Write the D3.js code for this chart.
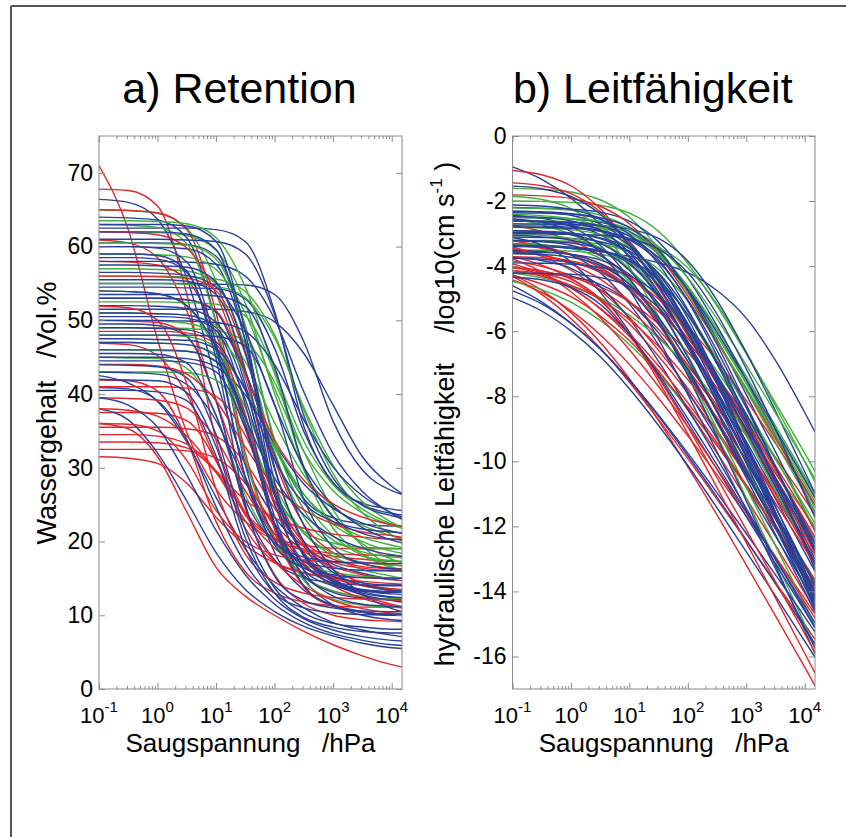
<!DOCTYPE html>
<html><head><meta charset="utf-8">
<script src="https://cdn.jsdelivr.net/npm/d3@7"></script>
<style>
body{margin:0;background:#fff}
text{font-family:Arial,"Liberation Sans",Helvetica,sans-serif;fill:#000}
</style></head>
<body><svg id="c" width="846" height="837"></svg>
<script>
// suction head sample positions (hPa)
const suction = [0.1, 0.316, 1, 3.16, 10, 31.6, 100, 316, 1000, 3162, 10000, 15000];
const xTicks = [0.1, 1, 10, 100, 1000, 10000];
const xTickExp = ["-1", "0", "1", "2", "3", "4"];
const retTicks = [0, 10, 20, 30, 40, 50, 60, 70];
const condTicks = [0, -2, -4, -6, -8, -10, -12, -14, -16];

// a) Retention, water content /Vol.%
const retentionRed = [
[71.0,62.3,47.4,34.8,27.1,22.7,20.2,18.8,18.0,17.6,17.3,17.3],
[67.8,67.6,65.5,53.5,33.7,23.9,20.5,19.5,19.1,19.0,19.0,19.0],
[65.0,64.9,64.6,62.3,51.0,32.0,20.4,15.3,13.3,12.5,12.2,12.2],
[60.9,60.5,58.5,51.3,39.1,28.7,22.4,18.7,16.6,15.5,14.8,14.7],
[58.0,57.9,57.5,55.5,48.1,35.6,25.0,18.5,14.8,12.7,11.5,11.2],
[53.0,53.0,53.0,52.8,51.3,42.2,27.2,19.7,17.2,16.4,16.1,16.1],
[50.0,49.9,49.7,47.9,39.1,24.5,15.5,11.6,10.0,9.4,9.2,9.1],
[46.9,46.7,45.2,40.0,31.1,23.6,19.1,16.4,14.9,14.1,13.6,13.5],
[41.9,41.8,40.4,33.8,22.7,15.9,13.0,11.8,11.3,11.1,11.1,11.0],
[37.5,37.5,37.4,36.4,30.9,21.8,17.2,15.7,15.2,15.1,15.0,15.0],
[36.0,35.3,31.5,24.0,16.5,12.6,10.0,7.8,6.0,4.5,3.3,3.0],
[35.5,35.5,35.5,35.3,34.3,30.7,24.5,19.4,16.2,14.4,13.3,13.1],
[33.5,33.5,33.4,32.7,29.4,23.9,20.4,19.0,18.4,18.2,18.1,18.0],
[32.5,32.5,32.5,32.3,31.3,27.9,22.0,17.0,14.0,12.3,11.3,11.0],
[31.5,31.3,30.6,27.9,23.3,19.5,17.1,15.8,15.0,14.6,14.3,14.2],
[44.0,44.0,43.8,42.7,39.1,32.8,27.5,24.3,22.4,21.3,20.8,20.6],
[56.0,56.0,55.9,55.7,54.0,45.4,31.1,22.3,18.5,17.0,16.4,16.3],
[48.5,48.5,48.5,48.3,46.7,37.2,21.6,13.8,11.2,10.4,10.1,10.1],
[38.0,37.8,37.0,34.3,29.6,25.6,23.2,21.8,21.0,20.6,20.3,20.3],
[41.0,41.0,41.0,40.8,39.7,34.4,25.5,20.0,17.6,16.6,16.3,16.2],
[36.0,35.9,35.0,31.0,24.2,20.0,18.2,17.5,17.2,17.1,17.0,17.0],
[39.5,39.4,39.2,38.1,33.9,26.9,21.0,17.3,15.2,14.0,13.4,13.2],
[34.5,34.5,34.3,33.2,29.4,22.8,17.3,14.0,12.0,10.9,10.3,10.2],
[62.0,61.9,61.6,59.8,53.6,42.9,33.8,28.3,25.1,23.3,22.3,22.1],
[51.9,51.7,50.0,41.4,27.1,18.3,14.5,13.0,12.4,12.2,12.1,12.0]
];
const retentionGreen = [
[65.0,64.9,64.5,62.5,55.3,43.1,32.7,26.4,22.7,20.6,19.5,19.2],
[62.0,62.0,61.9,61.5,59.5,52.3,40.1,29.7,23.4,19.7,17.6,17.1],
[57.0,57.0,56.9,56.7,55.0,46.4,32.1,23.3,19.5,18.0,17.4,17.3],
[54.0,53.9,53.6,51.9,45.8,35.3,26.5,21.1,18.0,16.2,15.3,15.0],
[51.0,51.0,50.9,50.7,49.3,44.4,36.1,29.0,24.7,22.2,20.8,20.4],
[49.0,49.0,49.0,48.9,48.6,47.1,41.6,32.2,24.3,19.4,16.6,15.9],
[47.0,47.0,46.9,46.7,45.4,40.8,33.0,26.4,22.3,20.0,18.7,18.4],
[45.0,44.9,44.8,43.5,37.1,26.3,19.7,16.9,15.8,15.3,15.1,15.1],
[43.0,43.0,43.0,42.9,41.9,36.0,26.2,21.4,19.8,19.2,19.1,19.0],
[59.0,59.0,58.9,58.6,56.9,51.0,40.8,32.2,26.9,23.9,22.2,21.8],
[52.5,52.5,52.5,52.4,52.2,50.6,42.8,29.8,21.8,18.3,16.9,16.7],
[63.0,62.9,62.6,60.4,49.5,31.3,20.1,15.2,13.3,12.5,12.2,12.2],
[56.0,56.0,56.0,55.9,55.6,53.9,48.0,37.8,29.2,23.9,20.9,20.1],
[48.0,48.0,48.0,47.8,46.3,37.2,22.2,14.7,12.2,11.4,11.1,11.1],
[60.5,60.5,60.4,60.2,58.3,49.1,33.8,24.3,20.2,18.6,17.9,17.8],
[55.0,55.0,55.0,54.9,54.6,53.1,47.6,38.2,30.3,25.4,22.6,21.9],
[50.0,50.0,49.9,49.6,48.1,42.7,33.4,25.6,20.8,18.1,16.5,16.1],
[46.0,46.0,45.9,45.8,44.5,38.2,27.7,21.2,18.4,17.2,16.8,16.7],
[63.5,63.5,63.4,63.1,61.2,54.5,43.2,33.6,27.7,24.4,22.4,22.0]
];
const retentionBlue = [
[66.4,66.0,63.7,55.7,42.0,30.4,23.3,19.3,16.9,15.7,14.9,14.7],
[64.0,63.9,63.6,61.2,49.7,30.4,18.5,13.4,11.4,10.5,10.2,10.2],
[62.5,62.5,62.5,62.5,62.3,60.7,51.2,35.6,27.8,25.2,24.4,24.2],
[60.5,60.5,60.5,60.3,58.7,49.2,33.6,25.8,23.2,22.4,22.1,22.1],
[60.0,60.0,59.9,59.7,57.6,47.3,30.1,19.6,15.0,13.2,12.5,12.4],
[55.0,55.0,55.0,55.0,54.9,54.8,53.5,47.1,36.3,29.7,26.9,26.4],
[51.5,51.5,51.5,51.5,51.5,51.2,49.8,45.5,38.5,31.5,27.5,26.5],
[54.5,54.5,54.5,54.4,54.3,52.9,46.2,34.9,28.0,25.0,23.8,23.6],
[58.0,58.0,58.0,57.9,57.6,56.0,50.2,40.3,31.9,26.8,23.8,23.0],
[53.0,53.0,53.0,52.8,51.1,41.3,25.1,17.0,14.3,13.4,13.1,13.1],
[51.0,51.0,50.9,50.7,49.0,40.7,26.7,18.2,14.5,13.0,12.4,12.3],
[49.5,49.5,49.3,47.8,39.1,24.7,17.5,15.1,14.4,14.1,14.0,14.0],
[47.0,47.0,46.9,46.7,45.1,36.9,23.4,15.0,11.4,10.0,9.4,9.3],
[45.0,45.0,45.0,44.8,43.7,39.9,33.3,27.8,24.5,22.5,21.4,21.1],
[43.0,42.9,42.7,41.3,36.4,28.1,21.0,16.7,14.2,12.8,12.0,11.8],
[40.9,40.7,39.1,33.8,24.7,17.0,12.2,9.5,8.0,7.1,6.6,6.5],
[38.0,36.5,32.0,25.5,18.5,13.5,10.5,8.5,7.2,6.2,5.6,5.5],
[42.5,41.5,39.0,33.5,26.0,19.0,14.0,11.0,9.0,8.0,7.3,7.1],
[60.0,60.0,59.8,57.9,46.8,28.6,19.5,16.4,15.5,15.1,15.0,15.0],
[56.5,56.5,56.4,56.1,54.5,48.6,38.5,30.1,24.9,21.9,20.2,19.8],
[52.0,52.0,51.9,51.6,49.7,43.0,31.7,22.2,16.2,12.9,10.9,10.5],
[48.0,48.0,48.0,48.0,47.8,46.5,38.6,25.7,19.2,17.0,16.3,16.2],
[46.0,46.0,46.0,45.8,44.4,36.0,22.3,15.4,13.1,12.3,12.1,12.1],
[44.0,43.9,43.7,42.2,34.5,21.6,13.7,10.3,8.9,8.4,8.1,8.1],
[62.0,62.0,62.0,61.7,59.6,47.1,26.4,16.1,12.6,11.5,11.2,11.1],
[50.0,50.0,50.0,49.9,49.7,48.5,44.0,36.5,30.1,26.2,23.9,23.3],
[57.5,57.5,57.4,57.2,55.2,45.7,29.8,20.0,15.8,14.1,13.4,13.3],
[40.5,40.5,40.3,39.1,31.6,19.2,13.0,11.0,10.3,10.1,10.0,10.0],
[54.0,53.9,53.6,52.0,46.4,36.7,28.6,23.6,20.7,19.1,18.2,18.0],
[39.5,38.5,35.5,29.0,21.5,15.5,11.5,9.0,7.5,6.6,6.0,5.9],
[63.0,63.0,63.0,62.8,60.7,48.4,28.1,18.0,14.6,13.5,13.2,13.1],
[59.0,59.0,58.8,56.7,44.8,25.1,15.3,12.0,11.0,10.6,10.5,10.5],
[55.5,55.5,55.5,55.3,53.5,43.3,26.5,18.1,15.3,14.4,14.1,14.1],
[53.5,53.5,53.5,53.5,53.3,51.9,43.7,30.1,23.3,21.1,20.3,20.2],
[49.0,49.0,48.9,48.7,47.1,39.3,26.3,18.3,14.8,13.4,12.9,12.8],
[47.5,47.5,47.4,47.3,46.1,40.5,31.0,25.2,22.7,21.7,21.3,21.2],
[44.5,44.5,44.5,44.3,43.0,35.3,22.5,16.1,14.0,13.3,13.1,13.1],
[42.0,41.9,41.8,40.2,32.9,20.5,13.0,9.7,8.4,7.8,7.6,7.6],
[58.5,58.5,58.3,56.5,46.0,28.8,20.2,17.3,16.4,16.1,16.0,16.0],
[50.5,50.5,50.5,50.3,48.6,38.6,22.2,14.0,11.3,10.4,10.1,10.1],
[61.0,61.0,61.0,60.9,60.7,59.0,50.8,37.1,28.6,24.9,23.5,23.2],
[45.5,45.5,45.4,44.2,37.1,25.6,19.8,17.9,17.3,17.1,17.0,17.0]
];

// b) Conductivity, log10(K / cm s^-1)
const conductivityRed = [
[-3.70,-3.97,-4.38,-4.99,-5.78,-6.77,-7.90,-9.13,-10.43,-11.78,-13.14,-13.64],
[-3.93,-4.22,-4.66,-5.31,-6.16,-7.22,-8.43,-9.75,-11.14,-12.58,-14.05,-14.58],
[-3.22,-3.38,-3.65,-4.04,-4.63,-5.39,-6.35,-7.43,-8.62,-9.88,-11.17,-11.65],
[-4.42,-4.81,-5.37,-6.11,-7.02,-8.07,-9.22,-10.42,-11.67,-12.94,-14.22,-14.69],
[-4.26,-4.74,-5.43,-6.34,-7.46,-8.75,-10.17,-11.65,-13.19,-14.75,-16.33,-16.90],
[-3.41,-3.69,-4.12,-4.75,-5.57,-6.59,-7.76,-9.04,-10.39,-11.78,-13.19,-13.71],
[-1.06,-1.19,-1.53,-2.24,-3.34,-4.68,-6.12,-7.61,-9.10,-10.60,-12.10,-12.64],
[-1.44,-1.53,-1.77,-2.33,-3.32,-4.63,-6.09,-7.61,-9.15,-10.70,-12.25,-12.81],
[-3.84,-4.01,-4.29,-4.72,-5.35,-6.17,-7.19,-8.36,-9.64,-10.99,-12.38,-12.89],
[-3.34,-3.45,-3.63,-3.92,-4.36,-5.01,-5.86,-6.92,-8.13,-9.45,-10.84,-11.36],
[-4.28,-4.55,-4.94,-5.53,-6.29,-7.25,-8.33,-9.52,-10.78,-12.07,-13.39,-13.87],
[-4.31,-4.87,-5.61,-6.52,-7.57,-8.72,-9.92,-11.17,-12.44,-13.72,-15.01,-15.48],
[-3.71,-3.74,-3.84,-4.09,-4.69,-5.74,-7.14,-8.70,-10.31,-11.95,-13.60,-14.19],
[-2.75,-2.93,-3.22,-3.66,-4.31,-5.16,-6.22,-7.43,-8.75,-10.14,-11.58,-12.11],
[-1.81,-1.84,-1.92,-2.16,-2.70,-3.66,-4.92,-6.34,-7.81,-9.30,-10.80,-11.34],
[-4.05,-4.16,-4.34,-4.64,-5.10,-5.77,-6.65,-7.74,-8.99,-10.36,-11.80,-12.33],
[-3.77,-4.18,-4.79,-5.58,-6.57,-7.70,-8.93,-10.23,-11.58,-12.94,-14.33,-14.82],
[-4.05,-4.14,-4.40,-5.02,-6.10,-7.54,-9.15,-10.81,-12.50,-14.20,-15.90,-16.51],
[-4.00,-4.27,-4.68,-5.29,-6.08,-7.07,-8.20,-9.43,-10.73,-12.08,-13.44,-13.94],
[-3.46,-3.64,-3.94,-4.40,-5.07,-5.95,-7.04,-8.29,-9.66,-11.10,-12.58,-13.13],
[-4.14,-4.31,-4.59,-5.02,-5.65,-6.47,-7.49,-8.66,-9.94,-11.29,-12.68,-13.19],
[-4.14,-4.23,-4.48,-5.06,-6.08,-7.43,-8.94,-10.51,-12.10,-13.70,-15.30,-15.88],
[-3.56,-3.67,-3.87,-4.19,-4.68,-5.39,-6.33,-7.49,-8.82,-10.27,-11.81,-12.37]
];
const conductivityGreen = [
[-1.61,-1.64,-1.72,-1.96,-2.50,-3.46,-4.72,-6.14,-7.61,-9.10,-10.60,-11.14],
[-2.00,-2.01,-2.04,-2.13,-2.37,-2.93,-3.92,-5.23,-6.69,-8.21,-9.75,-10.31],
[-2.70,-2.71,-2.74,-2.83,-3.07,-3.63,-4.62,-5.93,-7.39,-8.91,-10.45,-11.01],
[-3.20,-3.21,-3.24,-3.32,-3.56,-4.10,-5.06,-6.32,-7.74,-9.21,-10.70,-11.24],
[-2.55,-2.73,-3.02,-3.46,-4.11,-4.96,-6.02,-7.23,-8.55,-9.94,-11.38,-11.91],
[-2.91,-2.94,-3.03,-3.27,-3.83,-4.82,-6.13,-7.59,-9.11,-10.65,-12.20,-12.76],
[-3.50,-3.51,-3.54,-3.63,-3.88,-4.46,-5.48,-6.83,-8.34,-9.91,-11.50,-12.08],
[-4.47,-4.72,-5.11,-5.67,-6.41,-7.32,-8.37,-9.52,-10.72,-11.97,-13.24,-13.70],
[-2.41,-2.45,-2.54,-2.80,-3.42,-4.50,-5.94,-7.55,-9.21,-10.90,-12.60,-13.21],
[-3.00,-3.00,-3.02,-3.05,-3.14,-3.42,-4.05,-5.17,-6.64,-8.30,-10.01,-10.64],
[-1.85,-1.95,-2.23,-2.88,-4.03,-5.55,-7.25,-9.01,-10.80,-12.60,-14.40,-15.05],
[-3.32,-3.35,-3.46,-3.76,-4.47,-5.71,-7.36,-9.20,-11.12,-13.05,-15.00,-15.70],
[-4.21,-4.36,-4.60,-4.97,-5.51,-6.22,-7.10,-8.11,-9.21,-10.37,-11.57,-12.01],
[-2.60,-2.61,-2.64,-2.74,-2.99,-3.59,-4.64,-6.04,-7.60,-9.21,-10.85,-11.44],
[-2.21,-2.23,-2.28,-2.43,-2.82,-3.62,-4.83,-6.28,-7.82,-9.41,-11.00,-11.58],
[-2.81,-2.83,-2.88,-3.03,-3.44,-4.27,-5.51,-7.00,-8.60,-10.23,-11.88,-12.47],
[-3.61,-3.64,-3.73,-3.98,-4.56,-5.58,-6.93,-8.44,-10.01,-11.60,-13.20,-13.78],
[-2.50,-2.51,-2.54,-2.62,-2.86,-3.40,-4.36,-5.62,-7.04,-8.51,-10.00,-10.54],
[-3.01,-3.05,-3.15,-3.43,-4.08,-5.23,-6.75,-8.45,-10.21,-12.00,-13.80,-14.45]
];
const conductivityBlue = [
[-0.95,-1.33,-1.91,-2.71,-3.74,-4.97,-6.35,-7.84,-9.39,-10.98,-12.60,-13.19],
[-3.30,-3.35,-3.45,-3.55,-3.70,-3.90,-4.20,-4.75,-5.60,-6.90,-8.50,-9.10],
[-2.31,-2.35,-2.44,-2.70,-3.32,-4.40,-5.84,-7.45,-9.11,-10.80,-12.50,-13.11],
[-2.51,-2.52,-2.55,-2.65,-2.93,-3.58,-4.73,-6.25,-7.95,-9.71,-11.50,-12.15],
[-2.61,-2.65,-2.75,-3.03,-3.68,-4.83,-6.35,-8.05,-9.81,-11.60,-13.40,-14.05],
[-2.91,-2.94,-3.04,-3.29,-3.89,-4.94,-6.34,-7.90,-9.51,-11.15,-12.80,-13.39],
[-3.11,-3.12,-3.15,-3.25,-3.54,-4.21,-5.39,-6.95,-8.70,-10.51,-12.35,-13.02],
[-3.34,-3.42,-3.66,-4.20,-5.16,-6.42,-7.84,-9.31,-10.80,-12.30,-13.80,-14.34],
[-2.44,-2.53,-2.78,-3.36,-4.38,-5.73,-7.24,-8.81,-10.40,-12.00,-13.60,-14.18],
[-3.51,-3.55,-3.64,-3.92,-4.55,-5.67,-7.14,-8.80,-10.51,-12.25,-14.00,-14.63],
[-4.21,-4.24,-4.32,-4.56,-5.10,-6.06,-7.32,-8.74,-10.21,-11.70,-13.20,-13.74],
[-2.20,-2.22,-2.25,-2.34,-2.62,-3.25,-4.37,-5.84,-7.50,-9.21,-10.95,-11.58],
[-2.70,-2.71,-2.72,-2.75,-2.86,-3.15,-3.84,-5.05,-6.66,-8.45,-10.32,-10.99],
[-3.12,-3.35,-3.87,-4.80,-6.02,-7.39,-8.81,-10.25,-11.70,-13.15,-14.60,-15.12],
[-4.97,-5.38,-5.99,-6.78,-7.77,-8.90,-10.13,-11.43,-12.78,-14.14,-15.53,-16.02],
[-4.76,-5.16,-5.76,-6.54,-7.51,-8.62,-9.83,-11.10,-12.42,-13.77,-15.12,-15.61],
[-4.60,-5.10,-5.75,-6.55,-7.50,-8.58,-9.75,-10.97,-12.22,-13.49,-14.78,-15.25],
[-3.74,-3.83,-4.07,-4.63,-5.62,-6.93,-8.39,-9.91,-11.45,-13.00,-14.55,-15.11],
[-2.61,-2.62,-2.65,-2.76,-3.08,-3.80,-5.08,-6.76,-8.66,-10.62,-12.60,-13.32],
[-3.22,-3.25,-3.36,-3.68,-4.40,-5.68,-7.36,-9.26,-11.22,-13.20,-15.20,-15.92],
[-2.80,-2.81,-2.84,-2.93,-3.17,-3.73,-4.72,-6.03,-7.49,-9.01,-10.55,-11.11],
[-3.40,-3.41,-3.45,-3.54,-3.80,-4.42,-5.50,-6.94,-8.55,-10.21,-11.90,-12.51],
[-2.55,-2.65,-2.93,-3.58,-4.73,-6.25,-7.95,-9.71,-11.50,-13.30,-15.10,-15.75],
[-4.34,-4.42,-4.65,-5.17,-6.10,-7.32,-8.69,-10.11,-11.55,-13.00,-14.45,-14.97],
[-3.00,-3.01,-3.02,-3.05,-3.16,-3.48,-4.20,-5.48,-7.16,-9.02,-11.02,-11.73],
[-3.61,-3.64,-3.73,-3.98,-4.56,-5.58,-6.93,-8.44,-10.01,-11.60,-13.20,-13.78],
[-2.12,-2.15,-2.26,-2.55,-3.24,-4.45,-6.06,-7.85,-9.72,-11.60,-13.50,-14.18],
[-3.90,-3.91,-3.94,-4.04,-4.29,-4.89,-5.94,-7.34,-8.90,-10.51,-12.15,-12.74],
[-1.54,-1.62,-1.86,-2.40,-3.36,-4.62,-6.04,-7.51,-9.00,-10.50,-12.00,-12.54],
[-4.21,-4.22,-4.25,-4.35,-4.63,-5.28,-6.43,-7.95,-9.65,-11.41,-13.20,-13.85],
[-2.31,-2.33,-2.39,-2.56,-3.02,-3.94,-5.34,-7.01,-8.80,-10.63,-12.48,-13.14],
[-2.61,-2.63,-2.69,-2.88,-3.36,-4.33,-5.80,-7.57,-9.45,-11.38,-13.33,-14.03],
[-2.91,-2.93,-2.98,-3.15,-3.58,-4.45,-5.77,-7.36,-9.05,-10.78,-12.53,-13.16],
[-3.21,-3.23,-3.29,-3.47,-3.94,-4.89,-6.32,-8.04,-9.88,-11.76,-13.65,-14.33],
[-2.47,-2.50,-2.61,-2.90,-3.59,-4.80,-6.41,-8.20,-10.07,-11.95,-13.85,-14.53],
[-3.36,-3.37,-3.41,-3.52,-3.84,-4.58,-5.89,-7.62,-9.56,-11.57,-13.60,-14.34],
[-2.76,-2.77,-2.80,-2.90,-3.19,-3.86,-5.04,-6.60,-8.35,-10.16,-12.00,-12.67],
[-3.06,-3.10,-3.20,-3.48,-4.13,-5.28,-6.80,-8.50,-10.26,-12.05,-13.85,-14.50],
[-2.36,-2.37,-2.40,-2.51,-2.81,-3.52,-4.76,-6.41,-8.25,-10.17,-12.10,-12.80],
[-3.56,-3.58,-3.64,-3.81,-4.25,-5.15,-6.51,-8.14,-9.88,-11.66,-13.45,-14.10],
[-2.96,-2.97,-3.01,-3.13,-3.46,-4.24,-5.61,-7.43,-9.46,-11.57,-13.70,-14.47],
[-3.76,-3.79,-3.89,-4.14,-4.74,-5.79,-7.19,-8.75,-10.36,-12.00,-13.65,-14.24]
];

const COLORS = {red: "#e2262b", green: "#3fae3c", blue: "#293f98"};
const AXIS = "#8a8a8a";
const svg = d3.select("#c");

// page frame (top & left)
svg.append("line").attr("x1", 11).attr("y1", 6).attr("x2", 846).attr("y2", 6).attr("stroke", "#555").attr("stroke-width", 2);
svg.append("line").attr("x1", 11).attr("y1", 6).attr("x2", 11).attr("y2", 837).attr("stroke", "#555").attr("stroke-width", 2);

const minorTicks = [];
[-1, 0, 1, 2, 3, 4].forEach(k => { for (let m = 2; m <= 9; m++) { const v = m * Math.pow(10, k); if (v <= 15000) minorTicks.push(v); } });

function panel(opt) {
  const {left, right, top, bottom, yDomain, yTicks, groups, title, ylabel, id} = opt;
  const x = d3.scaleLog().domain([0.1, 15000]).range([left, right]);
  const y = d3.scaleLinear().domain(yDomain).range([bottom, top]);
  const g = svg.append("g");

  g.append("clipPath").attr("id", id).append("rect")
    .attr("x", left).attr("y", top).attr("width", right - left).attr("height", bottom - top);

  // interleave the colour groups so the drawing order is mixed
  const series = [];
  const n = d3.max(groups, gr => gr[0].length);
  for (let i = 0; i < n; i++) groups.forEach(([data, col]) => { if (i < data.length) series.push({values: data[i], col}); });

  const line = d3.line().x((d, i) => x(suction[i])).y(d => y(d)).curve(d3.curveMonotoneX);
  g.append("g").attr("clip-path", `url(#${id})`).selectAll("path").data(series).enter().append("path")
    .attr("d", d => line(d.values)).attr("fill", "none").attr("stroke", d => COLORS[d.col]).attr("stroke-width", 1.4);

  g.append("rect").attr("x", left).attr("y", top).attr("width", right - left).attr("height", bottom - top)
    .attr("fill", "none").attr("stroke", AXIS).attr("stroke-width", 1);

  const styleAxis = sel => { sel.select(".domain").remove(); sel.selectAll("line").attr("stroke", AXIS); };
  g.append("g").attr("transform", `translate(0,${bottom})`).call(d3.axisBottom(x).tickValues(xTicks).tickSizeInner(-6).tickSizeOuter(0).tickFormat("")).call(styleAxis);
  g.append("g").attr("transform", `translate(0,${bottom})`).call(d3.axisBottom(x).tickValues(minorTicks).tickSizeInner(-3).tickSizeOuter(0).tickFormat("")).call(styleAxis);
  g.append("g").attr("transform", `translate(0,${top})`).call(d3.axisTop(x).tickValues(xTicks).tickSizeInner(-6).tickSizeOuter(0).tickFormat("")).call(styleAxis);
  g.append("g").attr("transform", `translate(0,${top})`).call(d3.axisTop(x).tickValues(minorTicks).tickSizeInner(-3).tickSizeOuter(0).tickFormat("")).call(styleAxis);

  const yl = g.append("g").attr("transform", `translate(${left},0)`)
    .call(d3.axisLeft(y).tickValues(yTicks).tickSizeInner(-6).tickSizeOuter(0).tickPadding(6).tickFormat(d => String(d)));
  styleAxis(yl);
  yl.selectAll("text").attr("font-size", 23).attr("font-family", "Arial, Liberation Sans, sans-serif").attr("fill", "#000");
  g.append("g").attr("transform", `translate(${right},0)`)
    .call(d3.axisRight(y).tickValues(yTicks).tickSizeInner(-6).tickSizeOuter(0).tickFormat("")).call(styleAxis);

  xTicks.forEach((v, i) => {
    const t = g.append("text").attr("x", x(v)).attr("y", bottom + 34).attr("text-anchor", "middle").attr("font-size", 22);
    t.append("tspan").text("10");
    t.append("tspan").attr("dy", -11).attr("font-size", 15).text(xTickExp[i]);
  });

  g.append("text").attr("x", (left + right) / 2).attr("y", bottom + 63).attr("text-anchor", "middle")
    .attr("font-size", 26).style("white-space", "pre").text("Saugspannung   /hPa");

  g.append("text").attr("x", (left + right) / 2 - 11).attr("y", 103).attr("text-anchor", "middle")
    .attr("font-size", 43).text(title);

  ylabel(g);
}

panel({
  id: "clipA", left: 99, right: 402, top: 136, bottom: 689,
  yDomain: [0, 75], yTicks: retTicks, title: "a) Retention",
  groups: [[retentionRed, "red"], [retentionGreen, "green"], [retentionBlue, "blue"]],
  ylabel: g => g.append("text").attr("transform", "translate(56,413) rotate(-90)").attr("text-anchor", "middle")
    .attr("font-size", 27).style("white-space", "pre").text("Wassergehalt   /Vol.%")
});

panel({
  id: "clipB", left: 512.5, right: 815, top: 136, bottom: 689,
  yDomain: [-17, 0], yTicks: condTicks, title: "b) Leitfähigkeit",
  groups: [[conductivityRed, "red"], [conductivityGreen, "green"], [conductivityBlue, "blue"]],
  ylabel: g => {
    const t = g.append("text").attr("transform", "translate(454,414) rotate(-90)").attr("text-anchor", "middle")
      .attr("font-size", 27).style("white-space", "pre");
    t.append("tspan").text("hydraulische Leitfähigkeit    /log10(cm s");
    t.append("tspan").attr("dy", -12).attr("font-size", 17).text("-1");
    t.append("tspan").attr("dy", 12).text(" )");
  }
});
</script>
</body></html>
